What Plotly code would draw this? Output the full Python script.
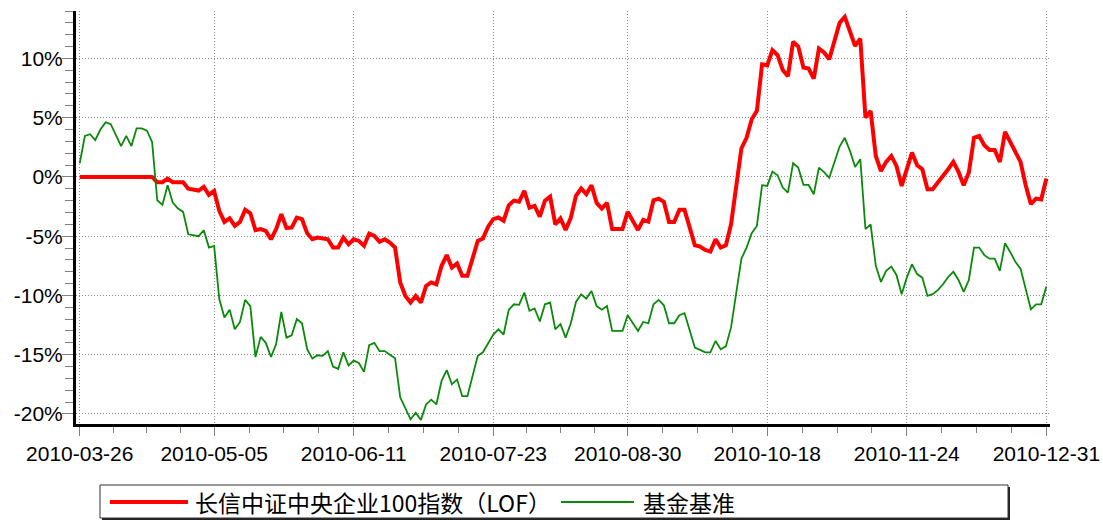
import plotly.graph_objects as go

# ---------------- data ----------------
tick_labels = ["2010-03-26", "2010-05-05", "2010-06-11", "2010-07-23",
               "2010-08-30", "2010-10-18", "2010-11-24", "2010-12-31"]
tick_index = [0, 26, 53, 80, 106, 133, 160, 187]   # trading-day index of each label

fund_name = "长信中证中央企业100指数（LOF）"
bench_name = "基金基准"

fund = [
    0, 0, 0, 0, 0, 0, 0, 0, 0, 0, 0, 0, 0, 0, 0, -0.45, -0.45, -0.15, -0.45, -0.45, -0.45, -1.0, -1.05, -1.15,
    -0.84, -1.52, -1.18, -2.87, -3.8, -3.5, -4.14, -3.8, -2.78, -3.07, -4.5, -4.4, -4.56, -5.26, -4.4, -3.15, -4.3, -4.28, -3.43, -3.57, -4.75, -5.26, -5.12, -5.2,
    -5.26, -5.96, -5.96, -5.12, -5.68, -5.26, -5.4, -5.82, -4.78, -4.98, -5.48, -5.26, -5.54, -5.96, -8.9, -10.04, -10.6, -10.04, -10.6, -9.2, -8.9, -9.06, -7.5, -6.6,
    -7.65, -7.3, -8.35, -8.35, -6.9, -5.4, -5.2, -4.2, -3.57, -3.43, -3.7, -2.4, -2.0, -2.1, -1.18, -2.6, -2.45, -3.35, -2.0, -1.66, -4.0, -3.5, -4.47, -3.45,
    -1.6, -0.98, -1.46, -0.7, -2.2, -2.67, -2.2, -4.4, -4.4, -4.4, -2.95, -3.7, -4.47, -3.63, -3.77, -1.97, -1.83, -2.1, -3.8, -3.8, -2.78, -2.78, -4.28, -5.77,
    -5.88, -6.16, -6.3, -5.26, -5.96, -5.77, -4.0, -0.48, 2.4, 3.3, 4.87, 5.57, 9.5, 9.4, 10.7, 10.27, 9.03, 8.5, 11.4, 11.0, 9.23, 9.14, 8.3, 10.83,
    10.5, 9.93, 11.4, 13.0, 13.5, 12.2, 11.05, 11.67, 5.0, 5.57, 1.77, 0.5, 1.27, 1.77, 0.93, -0.76, 0.7, 2.05, 0.98, 0.65, -1.04, -1.04, -0.48, 0.03,
    0.65, 1.27, 0.42, -0.7, 0.37, 3.3, 3.46, 2.67, 2.28, 2.28, 1.27, 3.8, 2.9, 2.05, 1.27, -0.7, -2.3, -1.83, -1.9, -0.14,
]

bench = [
    1.15, 3.46, 3.6, 3.1, 4.0, 4.6, 4.45, 3.5, 2.6, 3.46, 2.6, 4.1, 4.1, 3.9, 2.95, -1.97, -2.36, -0.7, -2.17, -2.67, -2.95, -4.84, -4.92, -5.0,
    -4.5, -5.96, -5.82, -10.3, -11.87, -11.2, -12.86, -12.24, -10.38, -10.9, -15.2, -13.5, -14.0, -15.2, -14.1, -11.4, -13.56, -13.36, -12.0, -12.35, -14.54, -15.33, -15.05, -15.1,
    -14.7, -16.0, -16.2, -14.8, -15.9, -15.5, -15.7, -16.45, -14.2, -14.0, -14.7, -14.7, -15.0, -15.3, -18.6, -19.6, -20.45, -19.9, -20.5, -19.2, -18.8, -19.2, -17.2, -16.3,
    -17.5, -17.1, -18.5, -18.5, -16.9, -15.1, -14.8, -14.0, -13.3, -12.86, -13.3, -11.2, -10.75, -10.8, -9.76, -11.3, -11.1, -12.2, -10.75, -10.6, -12.86, -12.43, -13.56, -12.35,
    -10.55, -9.9, -10.27, -9.62, -10.9, -11.2, -10.9, -13.0, -13.0, -13.0, -11.67, -12.3, -13.0, -12.24, -12.35, -10.75, -10.38, -10.83, -12.35, -12.35, -11.67, -11.5, -12.86, -14.4,
    -14.6, -14.8, -14.8, -13.84, -14.54, -14.3, -12.7, -9.6, -6.9, -5.96, -4.75, -4.14, -0.7, -0.76, 0.45, 0.14, -0.9, -1.32, 1.15, 0.79, -0.68, -0.68, -1.46, 0.79,
    0.4, -0.08, 1.2, 2.56, 3.3, 2.2, 0.84, 1.5, -4.4, -4.0, -7.5, -8.86, -7.93, -7.57, -8.27, -9.9, -8.5, -7.37, -8.2, -8.5, -10.04, -9.9, -9.56, -9.06,
    -8.45, -8.0, -8.7, -9.7, -8.7, -5.96, -5.96, -6.6, -6.9, -6.9, -7.93, -5.6, -6.33, -7.17, -7.74, -9.48, -11.17, -10.75, -10.75, -9.25,
]

y_ticks = [10, 5, 0, -5, -10, -15, -20]

# ---------------- figure ----------------
n = min(len(fund), len(bench))
x = list(range(n))

fig = go.Figure()
fig.add_trace(go.Scatter(x=x, y=fund[:n], mode="lines", name=fund_name,
                         line=dict(color="#ff0000", width=4), showlegend=False))
fig.add_trace(go.Scatter(x=x, y=bench[:n], mode="lines", name=bench_name,
                         line=dict(color="#0a8a0a", width=1.8), showlegend=False))

minor_x = []
for a, b in zip(tick_index[:-1], tick_index[1:]):
    minor_x += [a + (b - a) * k / 4 for k in (1, 2, 3)]

W, H = 1103, 520
L, R, T, B = 76, 53, 11, 96
PW, PH = W - L - R, H - T - B


def px_x(px):
    return (px - L) / PW


def px_y(py):
    return (H - B - py) / PH


grid_style = dict(showgrid=True, gridcolor="#8a8a8a", griddash="1px,2px", gridwidth=1)

fig.update_layout(
    width=W, height=H,
    margin=dict(l=L, r=R, t=T, b=B, autoexpand=False),
    paper_bgcolor="white", plot_bgcolor="white",
    font=dict(family="Liberation Sans, Arial, sans-serif", size=21, color="black"),
    showlegend=False,
    xaxis=dict(
        range=[-0.72, 187.7], automargin=False,
        tickmode="array", tickvals=tick_index, ticktext=tick_labels,
        **grid_style,
        showline=True, linecolor="black", linewidth=3,
        ticks="outside", ticklen=9, tickcolor="#808080", tickwidth=1,
        minor=dict(tickmode="array", tickvals=minor_x, ticks="outside",
                   ticklen=6, tickcolor="#808080", showgrid=False),
        zeroline=False, fixedrange=True,
        tickfont=dict(size=21),
    ),
    yaxis=dict(
        range=[-20.85, 14], automargin=False,
        tickmode="array", tickvals=y_ticks, ticktext=[f"{v}%" for v in y_ticks],
        **grid_style,
        showline=True, linecolor="black", linewidth=3,
        ticks="outside", ticklen=11, tickcolor="#808080", tickwidth=1,
        ticklabelstandoff=-5,
        minor=dict(dtick=1, tick0=0, ticks="outside", ticklen=8,
                   tickcolor="#808080", showgrid=False),
        zeroline=False, fixedrange=True,
        tickfont=dict(size=21),
    ),
)

# ---------------- custom legend ----------------
shapes = []
# shadow
shapes.append(dict(type="rect", xref="paper", yref="paper",
                   x0=px_x(102), x1=px_x(1010), y0=px_y(520), y1=px_y(487),
                   fillcolor="#222222", line=dict(width=0), layer="above"))
# box
shapes.append(dict(type="rect", xref="paper", yref="paper",
                   x0=px_x(100), x1=px_x(1008), y0=px_y(518), y1=px_y(485),
                   fillcolor="white", line=dict(color="#333333", width=1), layer="above"))
shapes.append(dict(type="line", xref="paper", yref="paper",
                   x0=px_x(110), x1=px_x(188), y0=px_y(502), y1=px_y(502),
                   line=dict(color="#ff0000", width=4), layer="above"))
shapes.append(dict(type="line", xref="paper", yref="paper",
                   x0=px_x(561), x1=px_x(634), y0=px_y(502), y1=px_y(502),
                   line=dict(color="#0a8a0a", width=2), layer="above"))
fig.update_layout(shapes=shapes)

leg_font = dict(family="Noto Sans CJK SC, sans-serif", size=23, color="black")
fig.add_annotation(xref="paper", yref="paper", x=px_x(193), y=px_y(502),
                   xanchor="left", yanchor="middle", text=fund_name,
                   showarrow=False, font=leg_font)
fig.add_annotation(xref="paper", yref="paper", x=px_x(641), y=px_y(502),
                   xanchor="left", yanchor="middle", text=bench_name,
                   showarrow=False, font=leg_font)

fig.write_html(
    "out.html",
    config={"displayModeBar": False},
    post_script="document.body.style.margin='0';document.body.style.overflow='hidden';",
)
